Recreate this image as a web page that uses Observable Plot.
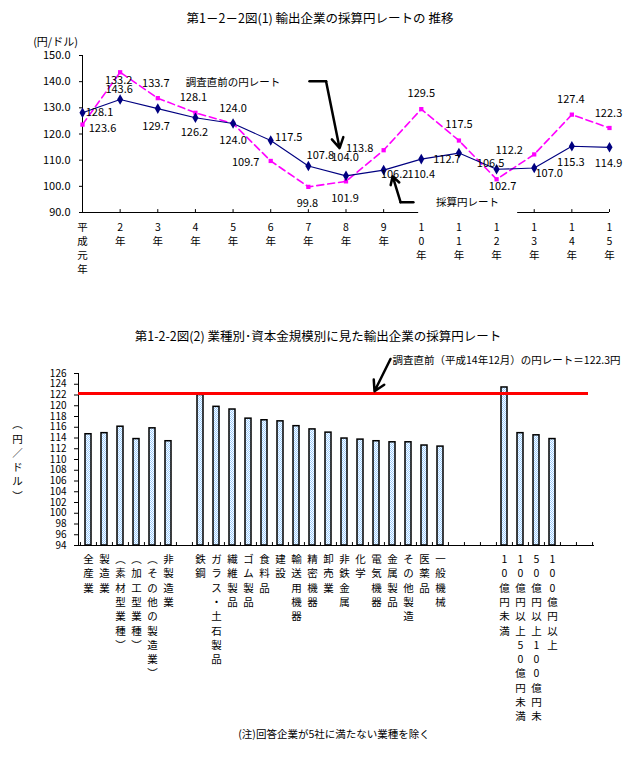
<!DOCTYPE html>
<html><head><meta charset="utf-8">
<script src="https://cdn.jsdelivr.net/npm/d3@7"></script>
<script src="https://cdn.jsdelivr.net/npm/@observablehq/plot@0.6"></script>
<style>
body{margin:0;background:#fff;}
#root{position:relative;width:640px;height:763px;font-family:"Noto Sans CJK JP",sans-serif;color:#000;overflow:hidden;background:#fff}
#root svg{position:absolute;left:0;}
.t{position:absolute;white-space:nowrap;transform:translate(-50%,-50%);line-height:1;}
</style></head><body><div id="root"></div>
<script>
// ---------- Chart 1 data ----------
const years = ["平成元年","2年","3年","4年","5年","6年","7年","8年","9年","10年","11年","12年","13年","14年","15年"];
const saisanRate   = [128.1,133.2,129.7,126.2,124.0,117.5,107.8,104.0,106.2,110.4,112.7,106.5,107.0,115.3,114.9]; // 採算円レート
const chokuzenRate = [123.6,143.6,133.7,128.1,124.0,109.7,99.8,101.9,113.8,129.5,117.5,102.7,112.2,127.4,122.3]; // 調査直前の円レート
const yTicks1 = [90,100,110,120,130,140,150];
// label offsets (px) relative to each point
const saisanLabelOffsets = [[17,0],[-1.5,-19],[-1.7,18],[-1,15],[0,17],[18,-3],[12,-10],[-1,-18],[11,4],[0,15],[-12,6],[-6,-6],[15,5],[-1,16],[-1,16]];
const chokuzenLabelOffsets = [[20,4],[-1,17],[-2,-15],[-2,-15],[0,-15],[-25,2],[-1,17],[-1,17],[-24,-2],[0,-16],[0,-16],[6,7],[-25,-4],[-1,-15],[-1,-15]];

// ---------- Chart 2 data ----------
const totals = ["全産業","製造業","（素材型業種）","（加工型業種）","（その他の製造業）","非製造業"];
const totalsValues = [114.7,114.9,116.1,113.8,115.8,113.4];
const sectors = ["鉄鋼","ガラス・土石製品","繊維製品","ゴム製品","食料品","建設","輸送用機器","精密機器","卸売業","非鉄金属","化学","電気機器","金属製品","その他製造","医薬品","一般機械"];
const sectorValues = [122.0,119.8,119.3,117.6,117.3,117.1,116.2,115.6,115.0,113.9,113.7,113.4,113.2,113.2,112.6,112.4];
const capitalSizes = ["10億円未満","10億円以上50億円未満","50億円以上100億円未満","100億円以上"];
const capitalValues = [123.4,114.9,114.5,113.8];
const surveyRate = 122.3;
const yTicks2 = d3.range(94,127,2);

const FONT = '"Noto Sans CJK JP", sans-serif';
const root = document.getElementById("root");

function addText(txt, cx, cy, size){
  const d = document.createElement("div");
  d.className = "t"; d.textContent = txt;
  d.style.left = cx + "px"; d.style.top = cy + "px"; d.style.fontSize = size + "px";
  root.appendChild(d);
}
const stack = s => s.replace(/（/g,"︵").replace(/）/g,"︶").split("").slice(0,12).join("\n");

// ---------- Chart 1 ----------
const idx = years.map((d,i)=>i);
const labelMarks = [];
saisanRate.forEach((v,i)=>labelMarks.push(Plot.text([{i,v}],{x:"i",y:"v",text:d=>d.v.toFixed(1),dx:saisanLabelOffsets[i][0],dy:saisanLabelOffsets[i][1],fontSize:11})));
chokuzenRate.forEach((v,i)=>labelMarks.push(Plot.text([{i,v}],{x:"i",y:"v",text:d=>d.v.toFixed(1),dx:chokuzenLabelOffsets[i][0],dy:chokuzenLabelOffsets[i][1],fontSize:11})));

const p1 = Plot.plot({
  width: 640, height: 290,
  marginTop: 55, marginBottom: 78, marginLeft: 82, marginRight: 31,
  style: {background: "transparent", fontFamily: FONT, fontSize: "11px", overflow: "visible"},
  x: {domain: [0, years.length-1], axis: null},
  y: {domain: [90,150], ticks: yTicks1, tickFormat: d=>d.toFixed(1), tickSize: 3, tickPadding: 9, line: true, label: null},
  marks: [
    Plot.ruleY([90], {stroke: "black"}),
    Plot.ruleX(idx, {x: d=>d, y1: 90, y2: 91.1, stroke: "black"}),
    Plot.line(chokuzenRate, {x: (d,i)=>i, y: d=>d, stroke: "#ff00ff", strokeWidth: 1.6, strokeDasharray: "7,4"}),
    Plot.dot(chokuzenRate, {x: (d,i)=>i, y: d=>d, symbol: "square", r: 2.4, fill: "#ff00ff"}),
    Plot.line(saisanRate, {x: (d,i)=>i, y: d=>d, stroke: "#000080", strokeWidth: 1.1}),
    Plot.dot(saisanRate, {x: (d,i)=>i, y: d=>d, symbol: "diamond", r: 3.2, fill: "#000080"}),
    ...labelMarks,
    Plot.text(years, {x: (d,i)=>i, text: d=>stack(d), frameAnchor: "bottom", lineAnchor: "top", dy: 8, lineHeight: 1.36, fontSize: 10.5}),
    Plot.text(["(円/ドル)"], {frameAnchor: "top-left", dx: -27, dy: -17, textAnchor: "middle", fontSize: 11}),
    // annotation: 調査直前の円レート
    Plot.text(["調査直前の円レート"], {x: ()=>4, y: ()=>139.8, textAnchor: "middle", fontSize: 10.5}),
    Plot.line([[6.03,140.2],[6.47,140.2]], {x: d=>d[0], y: d=>d[1], stroke: "black", strokeWidth: 2.5}),
    Plot.arrow([0], {x1: ()=>6.47, y1: ()=>140.2, x2: ()=>6.83, y2: ()=>114.6, stroke: "black", strokeWidth: 2.5, headLength: 7}),
    // annotation: 採算円レート
    Plot.rect([0], {x1: ()=>8.93, x2: ()=>11.56, y1: ()=>88.9, y2: ()=>97.2, fill: "white"}),
    Plot.text(["採算円レート"], {x: ()=>10.23, y: ()=>93.6, textAnchor: "middle", fontSize: 10.5}),
    Plot.line([[8.79,93.95],[8.45,93.95]], {x: d=>d[0], y: d=>d[1], stroke: "black", strokeWidth: 2.5}),
    Plot.arrow([0], {x1: ()=>8.45, y1: ()=>93.95, x2: ()=>8.24, y2: ()=>103.8, stroke: "black", strokeWidth: 2.5, headLength: 7})
  ]
});
p1.style.top = "0px";
root.appendChild(p1);

// ---------- Chart 2 ----------
const slots = [...totals, "_g1", ...sectors, "_g2", "_g3", "_g4", ...capitalSizes, "_g5", "_g6"];
const bars = [
  ...totals.map((n,i)=>({name:n, value: totalsValues[i]})),
  ...sectors.map((n,i)=>({name:n, value: sectorValues[i]})),
  ...capitalSizes.map((n,i)=>({name:n, value: capitalValues[i]}))
];
const W2 = 640, ML2 = 78, MR2 = 46;
const step = (W2 - ML2 - MR2) / slots.length;
const arrowFrom = sectors[12], arrowTo = sectors[11];

const p2 = Plot.plot({
  width: W2, height: 440,
  marginTop: 73, marginBottom: 195, marginLeft: ML2, marginRight: MR2,
  style: {background: "transparent", fontFamily: FONT, fontSize: "10px", overflow: "visible"},
  x: {type: "band", domain: slots, axis: null, paddingInner: 0.6, paddingOuter: 0.3},
  y: {domain: [94,126], ticks: yTicks2, tickSize: 4, tickPadding: 8, line: true, label: null},
  marks: [
    Plot.barY(bars, {x: "name", y1: 94, y2: "value", fill: "url(#chk)", stroke: "black", strokeWidth: 1.5}),
    Plot.ruleY([94], {stroke: "black"}),
    Plot.ruleX(slots, {x: d=>d, y1: 94, y2: 94.55, dx: -step/2, stroke: "black"}),
    Plot.ruleX(slots.slice(-1), {x: d=>d, y1: 94, y2: 94.55, dx: step/2, stroke: "black"}),
    Plot.ruleY([surveyRate], {stroke: "#ff0000", strokeWidth: 3, insetRight: 6}),
    Plot.text(bars, {x: "name", text: d=>stack(d.name), frameAnchor: "bottom", lineAnchor: "top", dy: 7.5, lineHeight: 1.36, fontSize: 10.5}),
    Plot.text(["（円／ドル）"], {text: d=>stack(d), frameAnchor: "left", dx: -61, textAnchor: "middle", lineAnchor: "middle", lineHeight: 1.36, fontSize: 10.5}),
    Plot.text([`調査直前（平成14年12月）の円レート＝${surveyRate}円`], {x: ()=>arrowFrom, y: ()=>128.4, textAnchor: "start", dx: 0, fontSize: 10.5}),
    Plot.arrow([0], {x1: ()=>arrowFrom, y1: ()=>128.7, x2: ()=>arrowTo, y2: ()=>122.7, dx: -2, stroke: "black", strokeWidth: 2.5, headLength: 7})
  ]
});
const defs = d3.select(p2).insert("defs", ":first-child");
const pat = defs.append("pattern").attr("id","chk").attr("width",2).attr("height",2).attr("patternUnits","userSpaceOnUse");
pat.append("rect").attr("width",2).attr("height",2).attr("fill","#ffffff");
pat.append("rect").attr("width",1).attr("height",1).attr("fill","#99ccff");
pat.append("rect").attr("x",1).attr("y",1).attr("width",1).attr("height",1).attr("fill","#99ccff");
p2.style.top = "300px";
root.appendChild(p2);

// ---------- Titles & notes ----------
addText("第1－2－2図(1)  輸出企業の採算円レートの 推移", 320, 18, 12.5);
addText("第1-2-2図(2)  業種別･資本金規模別に見た輸出企業の採算円レート", 318, 336, 12.5);
addText("(注)回答企業が5社に満たない業種を除く", 334, 734, 10.5);
</script></body></html>
